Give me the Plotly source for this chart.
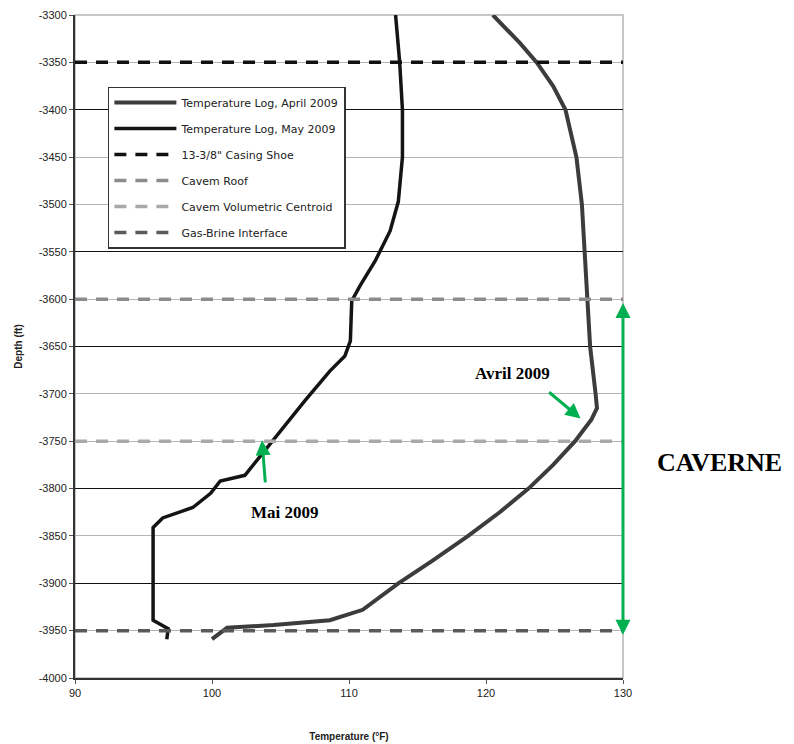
import plotly.graph_objects as go

# temperature logs (temperature in F, depth in ft)
april_temp = [120.5, 122.5, 123.7, 124.9, 125.8, 126.6, 127.0, 127.2, 127.4, 127.6, 128.0, 128.1,
              127.7, 126.5, 124.9, 123.1, 121.0, 118.7, 116.1, 113.6, 111.0, 108.6, 104.5, 101.1, 100.0]
april_depth = [-3300, -3330, -3350, -3375, -3400, -3450, -3500, -3550, -3600, -3650, -3700, -3715,
               -3727, -3750, -3775, -3800, -3825, -3850, -3876, -3900, -3928, -3939, -3944, -3947, -3959]

may_temp = [113.4, 113.7, 113.9, 113.9, 113.6, 113.0, 111.9, 110.8, 110.2, 110.1, 109.7, 108.6, 106.8,
            105.3, 104.1, 102.4, 100.6, 99.9, 98.6, 96.4, 95.7, 95.7, 96.8, 96.7]
may_depth = [-3300, -3350, -3400, -3450, -3497, -3528, -3560, -3586, -3602, -3644, -3660, -3676, -3707,
             -3734, -3755, -3786, -3792, -3805, -3820, -3831, -3841, -3939, -3948, -3959]

# reference depths
ref_names = ['13-3/8" Casing Shoe', 'Cavem Roof', 'Cavem Volumetric Centroid', 'Gas-Brine Interface']
ref_depths = [-3350, -3600, -3750, -3950]
ref_colors = ['#111111', '#8c8c8c', '#a9a9a9', '#5a5a5a']

y_ticks = list(range(-4000, -3299, 50))
dark_grid = [-3400, -3550, -3650, -3800, -3900]
x_range = [90, 130]

fig = go.Figure()

fig.add_trace(go.Scatter(x=april_temp, y=april_depth, mode='lines', name='Temperature Log, April 2009',
                         line=dict(color='#3c3c3c', width=4), legendgroup='a'))
fig.add_trace(go.Scatter(x=may_temp, y=may_depth, mode='lines', name='Temperature Log, May 2009',
                         line=dict(color='#141414', width=3.5), legendgroup='b'))

for i in range(len(ref_names)):
    fig.add_trace(go.Scatter(x=x_range, y=[ref_depths[i], ref_depths[i]], mode='lines', name=ref_names[i],
                             line=dict(color=ref_colors[i], width=3.5, dash='12px,9px'),
                             legendgroup='r%d' % i))

# frame top/right in light gray
fig.add_shape(type='rect', xref='paper', yref='paper', x0=0, x1=1, y0=0, y1=1,
              line=dict(color='#b5b5b5', width=1.5), layer='below')

green = '#00b050'
fig.add_annotation(x=103.65, y=-3749, ax=103.9, ay=-3795, xref='x', yref='y', axref='x', ayref='y',
                   text='', showarrow=True, arrowhead=2, arrowsize=1, arrowwidth=3, arrowcolor=green)
fig.add_annotation(x=105.3, y=-3825, text='<b>Mai 2009</b>', showarrow=False,
                   font=dict(family='Liberation Serif', size=17, color='black'))
fig.add_annotation(x=126.9, y=-3726, ax=124.5, ay=-3697, xref='x', yref='y', axref='x', ayref='y',
                   text='', showarrow=True, arrowhead=2, arrowsize=1, arrowwidth=3, arrowcolor=green)
fig.add_annotation(x=121.9, y=-3679, text='<b>Avril 2009</b>', showarrow=False,
                   font=dict(family='Liberation Serif', size=17, color='black'))
fig.add_annotation(x=130, y=-3604, ax=130, ay=-3956, xref='x', yref='y', axref='x', ayref='y',
                   text='', showarrow=True, arrowhead=2, startarrowhead=2, arrowside='end+start',
                   arrowsize=1, startarrowsize=1, arrowwidth=3, arrowcolor=green)
fig.add_annotation(x=1.177, xref='paper', y=-3772, yref='y', text='<b>CAVERNE</b>', showarrow=False,
                   xanchor='center', yanchor='middle',
                   font=dict(family='Liberation Serif', size=26, color='black'))

# page body adds an 8px offset, margins compensate for it
fig.update_layout(
    width=794, height=744,
    margin=dict(l=67, r=179, t=7, b=74),
    paper_bgcolor='white', plot_bgcolor='white',
    font=dict(family='Liberation Sans', size=11, color='#222222'),
    showlegend=True,
    legend=dict(x=0.06, y=0.892, xanchor='left', yanchor='top', bgcolor='white',
                bordercolor='#333333', borderwidth=1.5, tracegroupgap=7, itemwidth=62,
                font=dict(family='DejaVu Sans', size=11, color='#222222')),
    xaxis=dict(range=x_range, tickvals=[90, 100, 110, 120, 130], showgrid=False, zeroline=False,
               showline=True, automargin=False,
               linecolor='#333333', linewidth=2, ticks='outside', ticklen=4, tickcolor='#555555',
               title=dict(text='<b>Temperature (°F)</b>', font=dict(size=10), standoff=35)),
    yaxis=dict(range=[-4000, -3300], tickvals=y_ticks, ticktext=[str(v) for v in y_ticks],
               showgrid=True, gridcolor='#b5b5b5', gridwidth=1, automargin=False,
               zeroline=False, showline=True, linecolor='#333333', linewidth=2,
               ticks='outside', ticklen=4, tickcolor='#555555',
               title=dict(text='<b>Depth (ft)</b>', font=dict(size=10), standoff=14)),
    # second axis only to draw the darker grid lines
    yaxis2=dict(range=[-4000, -3300], overlaying='y', side='left', tickvals=dark_grid,
                showticklabels=False, ticks='', showgrid=True, gridcolor='#111111', gridwidth=1,
                zeroline=False, showline=False, automargin=False),
)
# invisible trace on the second axis so its grid is drawn
fig.add_trace(go.Scatter(x=[x_range[0]], y=[dark_grid[0]], yaxis='y2', mode='markers',
                         marker=dict(opacity=0), showlegend=False, hoverinfo='skip'))

fig.write_html("out.html")
